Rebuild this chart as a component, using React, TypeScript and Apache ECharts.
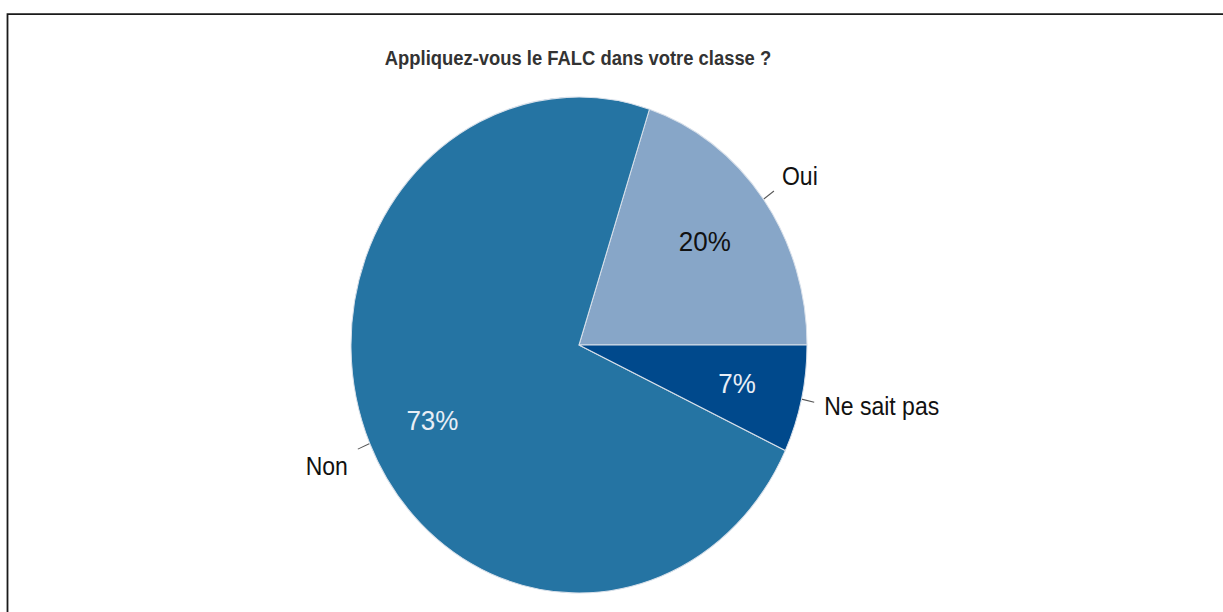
import React, { useEffect, useRef } from "react";
import * as echarts from "echarts";

const title = "Appliquez-vous le FALC dans votre classe ?";
const categories = ["Oui", "Non", "Ne sait pas"];
const values = [20, 73, 7];
const sliceColors = ["#87A6C8", "#2574A3", "#00498C"];
const insideLabelColors = ["#111111", "#E8EEF6", "#E8EEF6"];

// The reference picture is stretched vertically; we reproduce that by scaling.
const STRETCH = 1.0877;
const W = 1223;
const H = 612;

export default function App() {
  const ref = useRef<HTMLDivElement>(null);
  useEffect(() => {
    if (!ref.current) return;
    const chart = echarts.init(ref.current, null, { renderer: "svg" });
    const total = values.reduce((a, b) => a + b, 0);
    const cx = 579;
    const cy = 317.2;
    chart.setOption({
      animation: false,
      backgroundColor: "#ffffff",
      title: {
        text: title,
        left: 573,
        top: 39.3,
        textAlign: "center",
        textStyle: {
          fontFamily: "Liberation Sans, Arial, sans-serif",
          fontSize: 18.4,
          fontWeight: "bold",
          color: "#333333",
        },
      },
      graphic: [
        {
          type: "rect",
          shape: { x: 7.5, y: 13, width: 1240, height: 640 },
          style: { fill: "none", stroke: "#1a1a1a", lineWidth: 1.8 },
          silent: true,
        },
      ],
      series: [
        {
          type: "pie",
          center: [cx, cy],
          radius: 228,
          startAngle: 0,
          clockwise: false,
          avoidLabelOverlap: false,
          itemStyle: { borderColor: "#d8e0ea", borderWidth: 1 },
          label: {
            show: true,
            position: "outside",
            formatter: "{b}",
            fontFamily: "Liberation Sans, Arial, sans-serif",
            fontSize: 23,
            color: "#111111",
            distanceToLabelLine: 8,
          },
          labelLine: {
            show: true,
            length: 13,
            length2: 0,
            lineStyle: { color: "#555555", width: 1 },
          },
          labelLayout: (params: any) => {
            const dxs = [0, -2, 2];
            const dys = [-14, 15.8, 3.2];
            return { dx: dxs[params.dataIndex], dy: dys[params.dataIndex] };
          },
          emphasis: { disabled: true },
          data: categories.map((c, i) => ({
            name: c,
            value: values[i],
            itemStyle: { color: sliceColors[i] },
          })),
        },
        {
          type: "pie",
          center: [cx, cy],
          radius: [92, 228],
          startAngle: 0,
          clockwise: false,
          silent: true,
          avoidLabelOverlap: false,
          itemStyle: { color: "rgba(0,0,0,0)", borderWidth: 0 },
          label: {
            show: true,
            position: "inside",
            formatter: (p: any) => Math.round((p.value / total) * 100) + "%",
            fontFamily: "Liberation Sans, Arial, sans-serif",
            fontSize: 26,
          },
          labelLine: { show: false },
          labelLayout: (params: any) => {
            const dxs = [-6, 3, -1];
            const dys = [0, 4.2, -0.8];
            return { dx: dxs[params.dataIndex], dy: dys[params.dataIndex] };
          },
          emphasis: { disabled: true },
          data: categories.map((c, i) => ({
            name: c,
            value: values[i],
            label: { color: insideLabelColors[i] },
          })),
        },
      ],
    });
    return () => chart.dispose();
  }, []);
  return (
    <div
      style={{
        position: "fixed",
        left: 0,
        top: 0,
        width: W,
        height: H,
        overflow: "hidden",
        background: "#ffffff",
      }}
    >
      <div
        ref={ref}
        style={{
          width: W,
          height: H / STRETCH,
          transform: `scaleY(${STRETCH})`,
          transformOrigin: "0 0",
        }}
      />
    </div>
  );
}
